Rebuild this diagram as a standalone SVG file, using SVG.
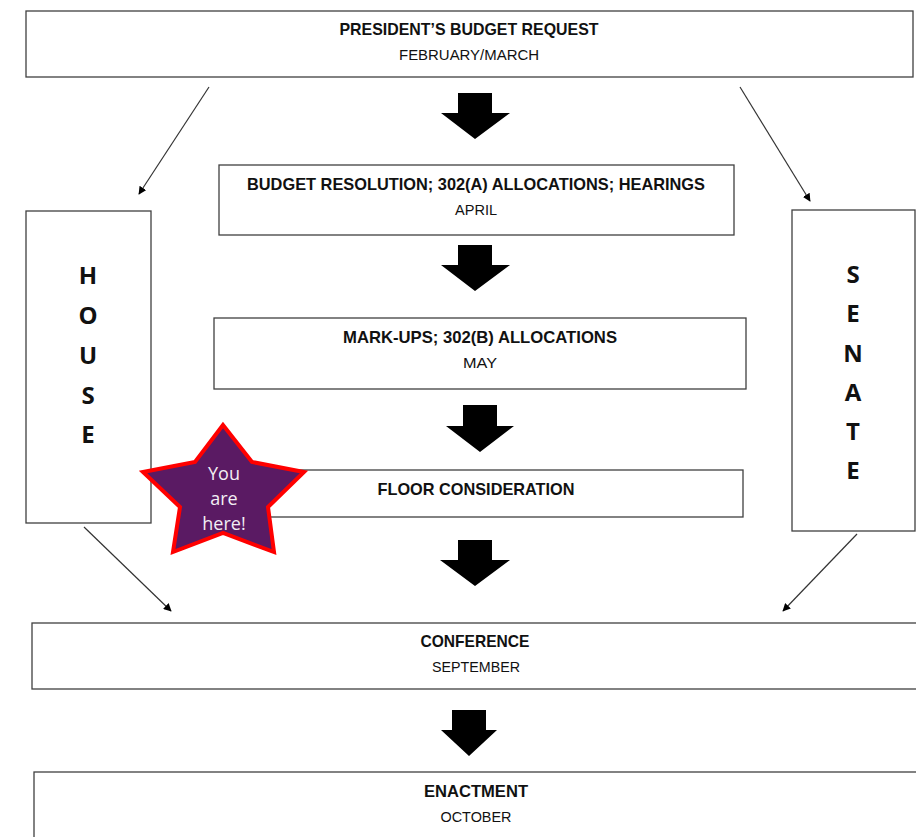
<svg xmlns="http://www.w3.org/2000/svg" width="916" height="837" viewBox="0 0 916 837">
<style>
.box{fill:#fff;stroke:#404040;stroke-width:1.3}
.t{font-family:"Liberation Sans Narrow","Liberation Sans",Arial,sans-serif;font-weight:bold;font-size:17px;fill:#111;text-anchor:middle}
.s{font-family:"Liberation Sans Narrow","Liberation Sans",Arial,sans-serif;font-size:14px;fill:#111;text-anchor:middle}
.big{font-family:"Open Sans","Liberation Sans",Arial,sans-serif;font-weight:bold;font-size:24px;fill:#111;text-anchor:middle}
.thin{stroke:#333;stroke-width:1.2;fill:none;marker-end:url(#ah)}
.blk{fill:#000}
.star-t{font-family:"Open Sans","Liberation Sans",Arial,sans-serif;font-size:18px;fill:#f2eef4;text-anchor:middle}
</style>
<defs>
<marker id="ah" viewBox="0 0 10 10" refX="9" refY="5" markerWidth="8" markerHeight="8" orient="auto" markerUnits="userSpaceOnUse">
<path d="M0,0 L10,5 L0,10 z" fill="#000"/>
</marker>
</defs>
<rect width="916" height="837" fill="#fff"/>

<g id="connectors">
<line class="thin" x1="209" y1="87" x2="139" y2="194"/>
<line class="thin" x1="740" y1="87" x2="810" y2="201"/>
<line class="thin" x1="84" y1="527" x2="171" y2="611"/>
<line class="thin" x1="857" y1="534" x2="783" y2="611"/>
<path class="blk" d="M458,93 H492 V113 H510 L475,139 L441,113 H458 Z"/>
<path class="blk" d="M458,245 H492 V265 H510 L475,291 L441,265 H458 Z"/>
<path class="blk" d="M463,405 H497 V426 H514 L480,452 L446,426 H463 Z"/>
<path class="blk" d="M458,540 H492 V560 H510 L475,586 L440,560 H458 Z"/>
<path class="blk" d="M452,710 H486 V730 H497 L469,756 L441,730 H452 Z"/>
</g>

<g id="president">
<rect class="box" x="26" y="11" width="887" height="66"/>
<text class="t" x="469" y="35" textLength="259" lengthAdjust="spacingAndGlyphs">PRESIDENT’S BUDGET REQUEST</text>
<text class="s" x="469" y="60" textLength="140" lengthAdjust="spacingAndGlyphs">FEBRUARY/MARCH</text>
</g>

<g id="resolution">
<rect class="box" x="219" y="165" width="515" height="70"/>
<text class="t" x="476" y="190" textLength="458" lengthAdjust="spacingAndGlyphs">BUDGET RESOLUTION; 302(A) ALLOCATIONS; HEARINGS</text>
<text class="s" x="476" y="215" textLength="42" lengthAdjust="spacingAndGlyphs">APRIL</text>
</g>

<g id="markups">
<rect class="box" x="214" y="318" width="532" height="71"/>
<text class="t" x="480" y="343" textLength="274" lengthAdjust="spacingAndGlyphs">MARK-UPS; 302(B) ALLOCATIONS</text>
<text class="s" x="480" y="368" textLength="34" lengthAdjust="spacingAndGlyphs">MAY</text>
</g>

<g id="floor">
<rect class="box" x="232" y="470" width="511" height="47"/>
<text class="t" x="476" y="495" textLength="197" lengthAdjust="spacingAndGlyphs">FLOOR CONSIDERATION</text>
</g>

<g id="house">
<rect class="box" x="26" y="211" width="125" height="312"/>
<text class="big" x="88" y="284">H</text>
<text class="big" x="88" y="324">O</text>
<text class="big" x="88" y="364">U</text>
<text class="big" x="88" y="404">S</text>
<text class="big" x="88" y="443">E</text>
</g>

<g id="senate">
<rect class="box" x="792" y="210" width="123" height="321"/>
<text class="big" x="853" y="283">S</text>
<text class="big" x="853" y="322">E</text>
<text class="big" x="853" y="362">N</text>
<text class="big" x="853" y="401">A</text>
<text class="big" x="853" y="440">T</text>
<text class="big" x="853" y="479">E</text>
</g>

<g id="conference">
<rect class="box" x="32" y="623" width="890" height="66"/>
<text class="t" x="475" y="647" textLength="109" lengthAdjust="spacingAndGlyphs">CONFERENCE</text>
<text class="s" x="476" y="672" textLength="88" lengthAdjust="spacingAndGlyphs">SEPTEMBER</text>
</g>

<g id="enactment">
<rect class="box" x="34" y="772" width="890" height="80"/>
<text class="t" x="476" y="797" textLength="104" lengthAdjust="spacingAndGlyphs">ENACTMENT</text>
<text class="s" x="476" y="822" textLength="71" lengthAdjust="spacingAndGlyphs">OCTOBER</text>
</g>

<g id="star">
<polygon points="223,425 195,462 143,472 180,507 173,552 223,533 274,552 268,507 304,472 252,462" fill="#5a1a63" stroke="#ff0000" stroke-width="4" stroke-linejoin="miter"/>
<text class="star-t" x="224" y="480">You</text>
<text class="star-t" x="224" y="505">are</text>
<text class="star-t" x="224" y="530">here!</text>
</g>
</svg>
